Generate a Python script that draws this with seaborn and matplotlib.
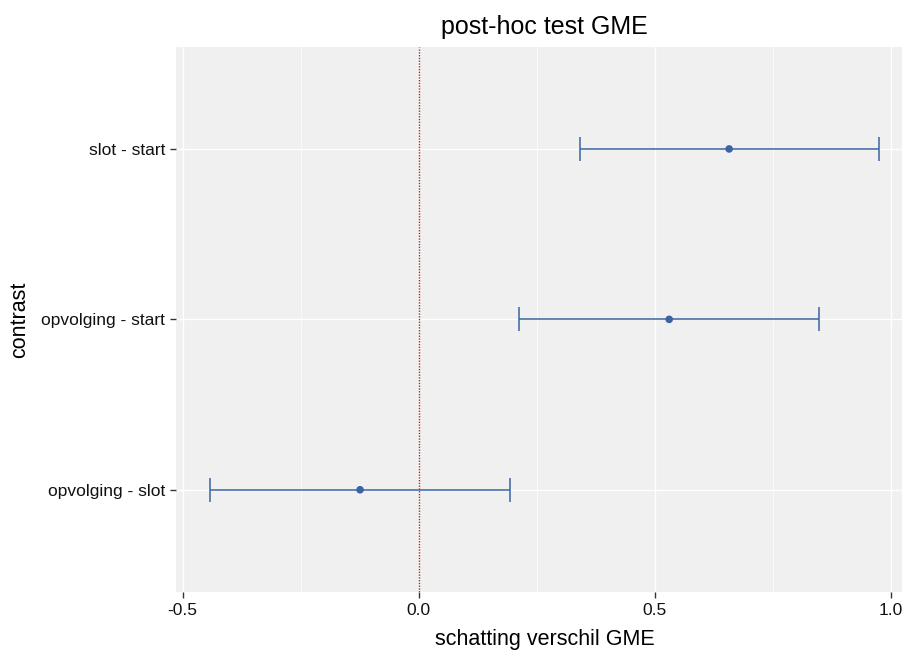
import numpy as np
import matplotlib
matplotlib.use("Agg")
import matplotlib.pyplot as plt
import seaborn as sns
import pandas as pd

# Data (bottom to top)
contrasts = ["opvolging - slot", "opvolging - start", "slot - start"]
estimates = [-0.124, 0.531, 0.658]
lower = [-0.442, 0.213, 0.342]
upper = [0.193, 0.848, 0.976]
xticks = [-0.5, 0.0, 0.5, 1.0]
xtick_labels = ["-0.5", "0.0", "0.5", "1.0"]

sns.set_theme(style="darkgrid")
plt.rcParams["font.family"] = ["Liberation Sans", "DejaVu Sans"]

df = pd.DataFrame({"contrast": contrasts, "estimate": estimates,
                   "lower": lower, "upper": upper})
df["pos"] = np.arange(len(df))

fig = plt.figure(figsize=(9.02, 6.52), dpi=100)
ax = fig.add_axes([0.1956, 0.092, 0.8163, 0.8364])
ax.set_facecolor("#F0F0F0")

col = "#3A64A2"
ax.errorbar(df["estimate"], df["pos"],
            xerr=[df["estimate"] - df["lower"], df["upper"] - df["estimate"]],
            fmt="none", ecolor=col, elinewidth=1.1, capsize=8.5, capthick=1.1,
            zorder=3)
sns.scatterplot(data=df, x="estimate", y="pos", color=col, s=30,
                edgecolor="none", ax=ax, zorder=4)

ax.axvline(0, color="#B22222", linestyle=(0, (1, 1)), linewidth=1.0, zorder=2)

ax.set_xlim(-0.513, 1.047)
ax.set_ylim(-0.6, 2.6)
ax.set_xticks(xticks)
ax.set_xticklabels(xtick_labels)
ax.set_xticks([-0.25, 0.25, 0.75], minor=True)
ax.set_yticks(df["pos"])
ax.set_yticklabels(df["contrast"])

ax.grid(which="major", color="white", linewidth=1.0)
ax.grid(which="minor", axis="x", color="white", linewidth=0.5)
ax.tick_params(axis="both", which="major", length=4, width=1.0, color="#333333",
               labelsize=12.5, labelcolor="#111111", pad=4, bottom=True, left=True)
ax.tick_params(axis="x", which="minor", length=0)
for s in ax.spines.values():
    s.set_visible(False)

ax.set_xlabel("schatting verschil GME", fontsize=15.5, labelpad=8, color="black")
ax.set_ylabel("contrast", fontsize=15.5, labelpad=8, color="black")
ax.set_title("post-hoc test GME", fontsize=18, pad=9, color="black")

fig.savefig("out.png", dpi=100)
